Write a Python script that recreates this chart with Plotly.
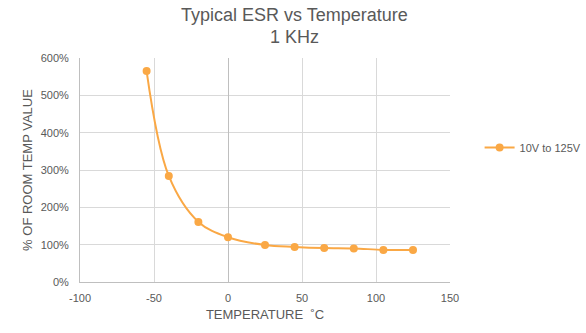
import plotly.graph_objects as go

temps = [-55, -40, -20, 0, 25, 45, 65, 85, 105, 125]
esr_pct = [565, 284, 161, 120, 99, 94, 91, 90, 86, 86]
series_name = "10V to 125V"
x_ticks = [-100, -50, 0, 50, 100, 150]
x_tick_labels = ["-100", "-50", "0", "50", "100", "150"]
title_lines = ["Typical ESR vs Temperature", "1 KHz"]

color = "#FAA845"
grid = "#D9D9D9"
txt = "#595959"
font = "Liberation Sans, Arial, sans-serif"

fig = go.Figure()
fig.add_trace(go.Scatter(
    x=temps, y=esr_pct, name=series_name, mode="lines+markers",
    line=dict(color=color, width=2, shape="spline", smoothing=1.0),
    marker=dict(color=color, size=8),
))

fig.update_layout(
    width=586, height=333,
    margin=dict(l=80, r=136, t=58, b=51, autoexpand=False),
    paper_bgcolor="white", plot_bgcolor="white",
    font=dict(family=font, color=txt, size=11),
    showlegend=True,
    legend=dict(x=1.08, y=0.60, xanchor="left", yanchor="middle",
                font=dict(size=11, color=txt), bgcolor="rgba(0,0,0,0)"),
    xaxis=dict(range=[-100, 150], tickvals=x_ticks, ticktext=x_tick_labels,
               showgrid=True, gridcolor=grid,
               zeroline=True, zerolinecolor="#BFBFBF", zerolinewidth=1,
               showline=True, linecolor="#BFBFBF", ticks="", ticklabelstandoff=6,
               title=dict(text="TEMPERATURE  ˚C", font=dict(size=13, color=txt), standoff=6),
               tickfont=dict(size=11, color=txt)),
    yaxis=dict(range=[0, 600], dtick=100, showgrid=True, gridcolor=grid,
               zeroline=False, showline=True, linecolor="#BFBFBF", ticks="",
               ticksuffix="%", ticklabelstandoff=8,
               title=dict(text="% OF ROOM TEMP VALUE", font=dict(size=13, color=txt), standoff=5),
               tickfont=dict(size=11, color=txt)),
)

fig.add_annotation(text=title_lines[0], xref="paper", yref="paper", x=0.581, y=1.0,
                   yshift=55, showarrow=False, font=dict(size=18, color=txt, family=font))
fig.add_annotation(text=title_lines[1], xref="paper", yref="paper", x=0.581, y=1.0,
                   yshift=33, showarrow=False, font=dict(size=18, color=txt, family=font))

fig.write_html("out.html")
